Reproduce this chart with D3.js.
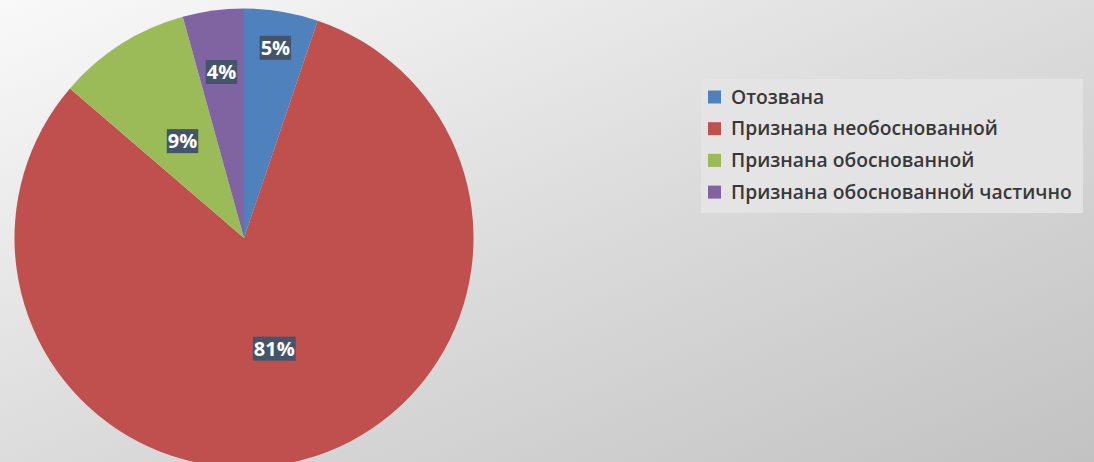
<!DOCTYPE html>
<html><head><meta charset="utf-8">
<script src="https://cdn.jsdelivr.net/npm/d3@7"></script>
<style>html,body{margin:0;padding:0;overflow:hidden}svg{display:block}</style>
</head><body>
<svg id="chart" width="1094" height="462"></svg>
<script>
const categories = ["Отозвана", "Признана необоснованной", "Признана обоснованной", "Признана обоснованной частично"];
const values = [5.2, 81.1, 9.4, 4.3];
const labels = ["5%", "81%", "9%", "4%"];
const colors = ["#4F81BD", "#C0504D", "#9BBB59", "#8064A2"];
const labelRadiusFrac = [0.84, 0.5, 0.5, 0.73];

const W = 1094, H = 462;
const svg = d3.select("#chart");
const defs = svg.append("defs");
const grad = defs.append("linearGradient").attr("id", "bg").attr("x1", "0").attr("y1", "0").attr("x2", "1").attr("y2", "1");
grad.append("stop").attr("offset", "0").attr("stop-color", "#f9f9f9");
grad.append("stop").attr("offset", "0.5").attr("stop-color", "#dcdcdc");
grad.append("stop").attr("offset", "1").attr("stop-color", "#c2c2c2");
svg.append("rect").attr("width", W).attr("height", H).attr("fill", "url(#bg)");

const cx = 244, cy = 238, R = 229.5;
const pie = d3.pie().sort(null).value(d => d)(values);
const arc = d3.arc().innerRadius(0).outerRadius(R);
const g = svg.append("g").attr("transform", `translate(${cx},${cy})`);
g.selectAll("path").data(pie).join("path").attr("d", arc).attr("fill", (d, i) => colors[i]);

const lg = g.selectAll("g.lab").data(pie).join("g").attr("class", "lab")
  .attr("transform", (d, i) => {
    const r = R * labelRadiusFrac[i];
    const c = d3.arc().innerRadius(r).outerRadius(r).centroid(d);
    return `translate(${c[0]},${c[1]})`;
  });
lg.each(function(d, i) {
  const sel = d3.select(this);
  const t = sel.append("text").text(labels[i]).attr("text-anchor", "middle").attr("dy", "0.36em")
    .attr("font-family", "Open Sans").attr("font-weight", "bold").attr("font-size", 20).attr("fill", "#fff");
  const bb = t.node().getBBox();
  sel.insert("rect", "text").attr("x", bb.x - 1).attr("y", -12).attr("width", bb.width + 2).attr("height", 24).attr("fill", "#44546A");
});

// legend
const leg = svg.append("g").attr("transform", "translate(701,79)");
leg.append("rect").attr("width", 382).attr("height", 134).attr("fill", "#e4e4e4").attr("opacity", 0.9);
const items = leg.selectAll("g.item").data(categories).join("g").attr("class", "item")
  .attr("transform", (d, i) => `translate(0,${18 + i * 31.7})`);
items.append("rect").attr("x", 7).attr("y", -6.5).attr("width", 13).attr("height", 13).attr("fill", (d, i) => colors[i]);
items.append("text").attr("x", 30).attr("dy", "0.35em").text(d => d)
  .attr("font-family", "Open Sans").attr("font-weight", 600).attr("font-size", 19.3).attr("fill", "#383838");
</script>
</body></html>
